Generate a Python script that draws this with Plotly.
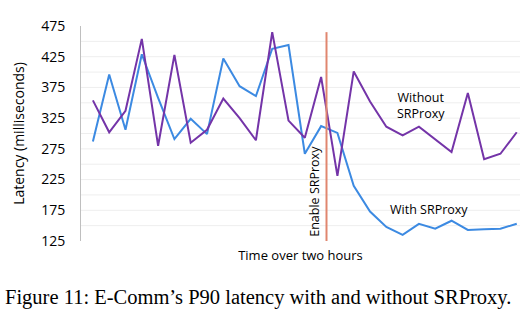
import plotly.graph_objects as go

# P90 latency samples (ms), one every ~4.5 minutes over two hours
with_srproxy = [287, 396, 306, 429, 358, 291, 324, 299, 422, 377, 361,
                438, 444, 267, 312, 301, 215, 173, 148, 135, 153, 145,
                158, 143, 144, 145, 153]
without_srproxy = [354, 302, 337, 454, 280, 428, 285, 306, 357, 325, 289,
                   465, 321, 293, 392, 231, 401, 352, 311, 297, 311, 291,
                   270, 366, 258, 267, 302]
samples = list(range(len(with_srproxy)))
enable_at = 14.33  # sample position where SRProxy was switched on

y_ticks = [125, 175, 225, 275, 325, 375, 425, 475]

FONT = "Open Sans"

fig = go.Figure()
fig.add_trace(go.Scatter(x=samples, y=with_srproxy, mode="lines",
                         line=dict(color="#3C8AE2", width=2), name="With SRProxy"))
fig.add_trace(go.Scatter(x=samples, y=without_srproxy, mode="lines",
                         line=dict(color="#7434A8", width=2), name="Without SRProxy"))

# switch-on marker
fig.add_shape(type="line", x0=enable_at, x1=enable_at, y0=125, y1=465,
              xref="x", yref="y", line=dict(color="#E0866F", width=2))
fig.add_annotation(x=enable_at, y=206, xref="x", yref="y", text="Enable SRProxy",
                   textangle=-90, showarrow=False, xshift=-12,
                   font=dict(family=FONT, size=12.5, color="black"))

fig.add_annotation(x=20.1, y=346, xref="x", yref="y", text="Without<br>SRProxy",
                   showarrow=False, align="center",
                   font=dict(family=FONT, size=12.5, color="black"))
fig.add_annotation(x=20.6, y=177, xref="x", yref="y", text="With SRProxy",
                   showarrow=False, font=dict(family=FONT, size=12.5, color="black"))

fig.add_annotation(x=0.404, y=-0.265, xref="paper", yref="paper",
                   text="Figure 11: E-Comm\u2019s P90 latency with and without SRProxy.",
                   showarrow=False, yanchor="middle", xanchor="center",
                   font=dict(family="Liberation Serif", size=20.5, color="black"))

fig.update_layout(
    width=526, height=335,
    margin=dict(l=81, r=6, t=26, b=94),
    paper_bgcolor="white", plot_bgcolor="white",
    showlegend=False,
    font=dict(family=FONT, size=14, color="black"),
)
fig.update_xaxes(range=[-0.73, 26.2], showticklabels=False, showgrid=False,
                 zeroline=False, showline=False, ticks="",
                 title=dict(text="Time over two hours", standoff=9,
                            font=dict(family=FONT, size=13)))
fig.update_yaxes(range=[125, 475], tickvals=y_ticks, ticktext=[str(v) for v in y_ticks],
                 showgrid=False, zeroline=False,
                 showline=True, linecolor="#BFBFBF", linewidth=1,
                 ticks="outside", ticklen=12, tickcolor="white",
                 title=dict(text="Latency (milliseconds)", standoff=13,
                            font=dict(family=FONT, size=14)))

# faint gridlines every 25 ms
for g in range(150, 475, 25):
    fig.add_shape(type="line", xref="x", yref="y", x0=-0.73, x1=26.2, y0=g, y1=g,
                  line=dict(color="#EEEEEE", width=1), layer="below")

fig.write_html("out.html")
